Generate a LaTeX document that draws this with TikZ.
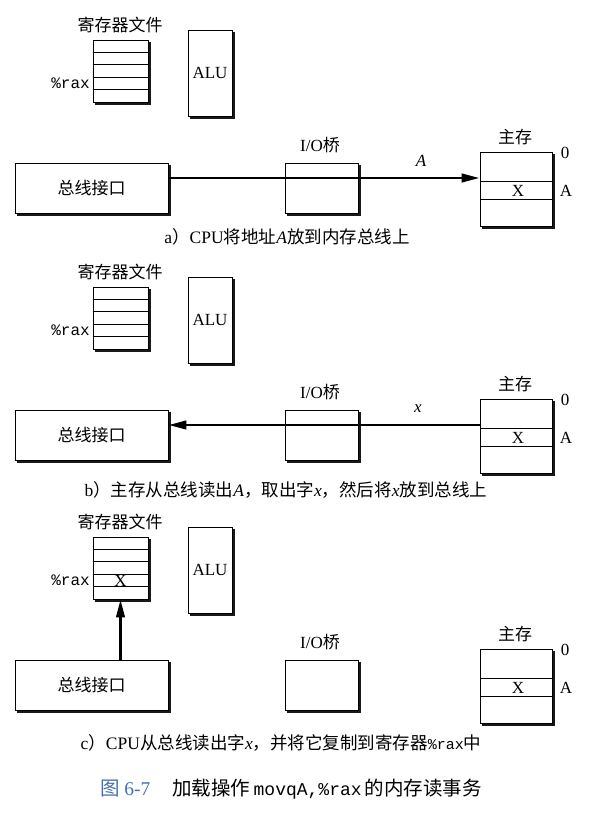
\documentclass[tikz,border=0pt]{standalone}
\usepackage{fontspec}
\setmainfont{Liberation Serif}
\setmonofont{Liberation Mono}
\newfontfamily\cjk{Noto Sans CJK SC}
\usepackage{tikz}
\usetikzlibrary{arrows.meta,positioning,calc,backgrounds}
\definecolor{capblue}{RGB}{70,110,172}
\newcommand{\zh}[1]{{\cjk #1}}
\tikzset{box/.style={draw=black,line width=0.9pt,fill=white,inner sep=0pt},
 boxshadow/.style={fill=black!90},
 arr/.style={-{Triangle[length=18pt,width=8.5pt]},line width=2.6pt},
 lab/.style={inner sep=1pt,font=\fontsize{17}{20}\selectfont},
 reglab/.style={inner sep=1pt,font=\fontsize{16}{18}\ttfamily},
 note/.style={inner sep=0pt,font=\fontsize{17.5}{20}\selectfont}}

\begin{document}
\begin{tikzpicture}[x=1pt,y=-1pt]
\useasboundingbox (0,0) rectangle (605,817);
% three panels, same layout
\foreach \p/\dy in {a/0,b/247,c/497}{
 \node[box,minimum width=55pt,minimum height=62pt] (reg\p) at (120.5,71+\dy) {};
 \foreach \k in {1,...,4}{\draw[line width=0.9pt] ($(reg\p.north west)!\k/5!(reg\p.south west)$)--($(reg\p.north east)!\k/5!(reg\p.south east)$);}
 \node[lab] (regt\p) at (120,25+\dy) {\zh{寄存器文件}};
 \node[reglab,anchor=east] (rax\p) at (91,83+\dy) {\%rax};
 \node[box,lab,inner sep=0pt,minimum width=44pt,minimum height=86pt] (alu\p) at (210,73+\dy) {ALU};
 \node[box,lab,inner sep=0pt,minimum width=153pt,minimum height=50pt] (bus\p) at (91.5,188+\dy) {\zh{总线接口}};
 \node[box,minimum width=73pt,minimum height=50pt] (io\p) at (321.5,188+\dy) {};
 \node[lab] (iot\p) at (320,145+\dy) {I/O\zh{桥}};
 \node[box,minimum width=72pt,minimum height=74pt] (mem\p) at (516,189+\dy) {};
 \draw[line width=0.9pt] ($(mem\p.north west)!0.405!(mem\p.south west)$)--($(mem\p.north east)!0.405!(mem\p.south east)$);
 \draw[line width=0.9pt] ($(mem\p.north west)!0.635!(mem\p.south west)$)--($(mem\p.north east)!0.635!(mem\p.south east)$);
 \node[lab] (memx\p) at ($(mem\p.north)!0.52!(mem\p.south)+(2,0)$) {X};
 \node[lab] (memt\p) at (515,137+\dy) {\zh{主存}};
 \node[lab] (zero\p) at (565,153+\dy) {0};
 \node[lab] (addr\p) at (566,191+\dy) {A};
}
% shadows behind the boxes
\begin{scope}[on background layer]
\foreach \p in {a,b,c}{\foreach \n in {reg,alu,bus,io,mem}{
 \fill[boxshadow] ([xshift=2.3pt,yshift=-2.3pt]\n\p.south west) rectangle ([xshift=2.3pt,yshift=-2.3pt]\n\p.north east);}}
\end{scope}
% a) address onto bus
\draw[arr] ([yshift=10pt]busa.east) -- ([yshift=10pt]busa.east -| mema.west);
\node[lab] (la) at (421,161) {\textit{A}};
\node[note] (capa) at (287,237) {a\zh{）}CPU\zh{将地址}\textit{A}\zh{放到内存总线上}};
% b) word back to bus interface
\draw[arr] ([yshift=10pt]busb.east -| memb.west) -- ([yshift=10pt]busb.east);
\node[lab] (lb) at (418,409) {\textit{x}};
\node[note] (capb) at (286,490) {b\zh{）主存从总线读出}\textit{A}\zh{，取出字}\textit{x}\zh{，然后将}\textit{x}\zh{放到总线上}};
% c) into %rax
\draw[arr] (busc.north -| regc.south) -- (regc.south);
\node[lab] (xc) at ($(regc.north)!0.7!(regc.south)$) {X};
\node[note] (capc) at (281,743) {c\zh{）}CPU\zh{从总线读出字}\textit{x}\zh{，并将它复制到寄存器}{\fontsize{15}{18}\ttfamily\%rax}\zh{中}};
\node[inner sep=0pt,font=\fontsize{19.5}{22}\selectfont] (fig) at (291,789) {{\color{capblue}\zh{图} 6-7}\hspace{22pt}\zh{加载操作}\,{\fontsize{18}{22}\ttfamily movqA,\%rax}\,\zh{的内存读事务}};
\end{tikzpicture}
\end{document}
